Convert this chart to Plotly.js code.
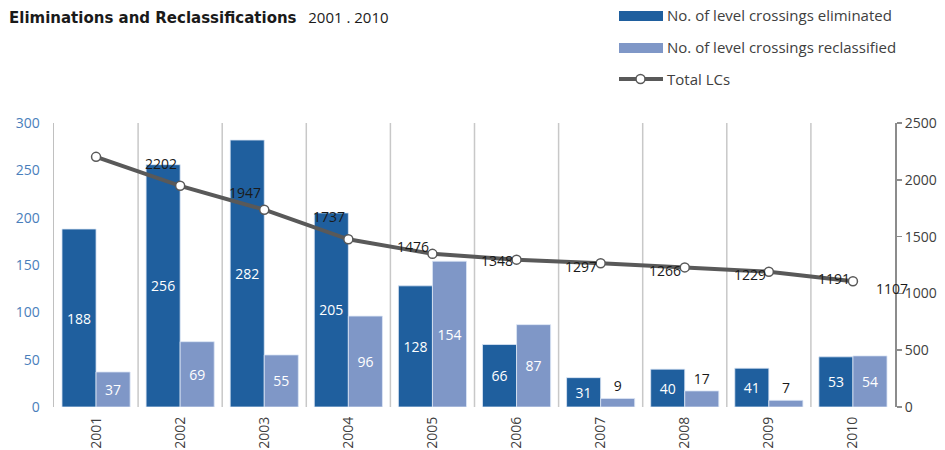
<!DOCTYPE html>
<html><head><meta charset="utf-8">
<script src="https://cdn.plot.ly/plotly-3.0.1.min.js"></script>
<style>html,body{margin:0;padding:0;background:#fff}#chart{width:945px;height:450px}</style>
</head><body><div id="chart"></div>
<script>
const years = ['2001','2002','2003','2004','2005','2006','2007','2008','2009','2010'];
const eliminated = [188,256,282,205,128,66,31,40,41,53];
const reclassified = [37,69,55,96,154,87,9,17,7,54];
const totalLCs = [2202,1947,1737,1476,1348,1297,1266,1229,1191,1107];

const FONT = 'Open Sans, Lato, sans-serif';
const L = 54, R = 895, T = 123, B = 407, W = 945, H = 450;
const px = x => (x - L) / (R - L);
const py = y => (B - y) / (B - T);

const traces = [
  {type:'bar', x: years, y: eliminated, name:'No. of level crossings eliminated',
   marker:{color:'#1f5f9e', line:{color:'rgba(220,230,245,0.8)', width:1}},
   text: eliminated.map(String), textposition:'auto', insidetextanchor:'middle',
   insidetextfont:{color:'#ffffff', size:14, family:FONT},
   outsidetextfont:{color:'#1a1a1a', size:14, family:FONT},
   cliponaxis:false, showlegend:false, hoverinfo:'none'},
  {type:'bar', x: years, y: reclassified, name:'No. of level crossings reclassified',
   marker:{color:'#7f97c7', line:{color:'rgba(220,230,245,0.8)', width:1}},
   text: reclassified.map(String), textposition:'auto', insidetextanchor:'middle',
   insidetextfont:{color:'#ffffff', size:14, family:FONT},
   outsidetextfont:{color:'#1a1a1a', size:14, family:FONT},
   cliponaxis:false, showlegend:false, hoverinfo:'none'},
  {type:'scatter', mode:'lines+markers', x: years, y: totalLCs, yaxis:'y2', name:'Total LCs',
   line:{color:'#595959', width:4},
   marker:{symbol:'circle', size:9, color:'#ffffff', line:{color:'#595959', width:1.5}},
   cliponaxis:false, showlegend:false, hoverinfo:'none'}
];

const n = years.length;
const shapes = [];
for (let i = 0; i < n - 1; i++) {
  shapes.push({type:'line', xref:'x', yref:'paper', x0:i+0.5, x1:i+0.5, y0:0, y1:1,
    line:{color:'#c8c8c8', width:1.5}, layer:'below'});
}
// custom legend
shapes.push({type:'rect', xref:'paper', yref:'paper', x0:px(619), x1:px(663), y0:py(21), y1:py(11),
  fillcolor:'#1f5f9e', line:{width:0}});
shapes.push({type:'rect', xref:'paper', yref:'paper', x0:px(619), x1:px(663), y0:py(53), y1:py(43),
  fillcolor:'#7f97c7', line:{width:0}});
shapes.push({type:'line', xref:'paper', yref:'paper', x0:px(619), x1:px(663), y0:py(79), y1:py(79),
  line:{color:'#595959', width:4}});
shapes.push({type:'circle', xref:'paper', yref:'paper', x0:px(636), x1:px(645), y0:py(83.5), y1:py(74.5),
  fillcolor:'#ffffff', line:{color:'#595959', width:1.5}});

const LEG = {family:FONT, size:15, color:'#404040'};
const annotations = [
  {xref:'paper', yref:'paper', x:px(665), y:py(15), xanchor:'left', yanchor:'middle', showarrow:false,
   text:'No. of level crossings eliminated', font:LEG},
  {xref:'paper', yref:'paper', x:px(665), y:py(47), xanchor:'left', yanchor:'middle', showarrow:false,
   text:'No. of level crossings reclassified', font:LEG},
  {xref:'paper', yref:'paper', x:px(665), y:py(79), xanchor:'left', yanchor:'middle', showarrow:false,
   text:'Total LCs', font:LEG}
];
totalLCs.forEach((v, i) => {
  const off = Math.min(i + 0.5 + 0.77, n - 0.03);
  annotations.push({xref:'paper', yref:'y2', x: off / n, y: v, yshift:-7,
    xanchor:'center', yanchor:'middle', showarrow:false, text:String(v),
    font:{family:FONT, size:14, color:'#1a1a1a'}});
});

const layout = {
  width: W, height: H,
  margin:{l:L, r:W-R, t:T, b:H-B, pad:0},
  paper_bgcolor:'#ffffff', plot_bgcolor:'#ffffff',
  font:{family:FONT, size:14, color:'#404040'},
  title:{text:'<b><span style="font-family:DejaVu Sans">Eliminations and Reclassifications</span></b>   2001 . 2010',
    x:9/W, xanchor:'left', xref:'container', y:1-18/H, yanchor:'middle', yref:'container',
    font:{family:FONT, size:15, color:'#1a1a1a'}},
  barmode:'group', bargap:0.19, bargroupgap:0,
  xaxis:{type:'category', range:[-0.5, 9.5], showgrid:false, zeroline:false, showline:false,
    ticks:'', tickangle:-90, ticklabelstandoff:6, tickfont:{family:FONT, size:14, color:'#404040'}},
  yaxis:{range:[0,300], dtick:50, showgrid:false, zeroline:false, showline:true,
    linecolor:'#c0c0c0', linewidth:1.5, ticks:'', ticklabelstandoff:10,
    tickfont:{family:FONT, size:14, color:'#4a7ebb'}},
  yaxis2:{overlaying:'y', side:'right', range:[0,2500], dtick:500, showgrid:false, zeroline:false,
    showline:true, linecolor:'#8c8c8c', linewidth:2, ticks:'outside', ticklen:5, tickcolor:'#8c8c8c',
    tickwidth:1.5, tickfont:{family:FONT, size:14, color:'#404040'}},
  shapes: shapes,
  annotations: annotations,
  showlegend:false
};

Plotly.newPlot('chart', traces, layout, {displayModeBar:false, staticPlot:true});
</script></body></html>
